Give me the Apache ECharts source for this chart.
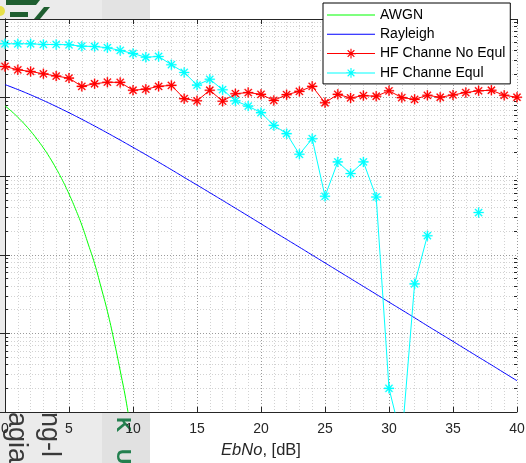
<!DOCTYPE html>
<html>
<head>
<meta charset="utf-8">
<script src="https://cdn.jsdelivr.net/npm/echarts@6/dist/echarts.min.js"></script>
<style>
html, body { margin: 0; padding: 0; background: #fff; }
#chart { width: 526px; height: 463px; }
</style>
</head>
<body>
<div id="chart"></div>
<script>
// EbNo axis (dB) for the measured HF curves and the Rayleigh reference
const ebno = [0, 1, 2, 3, 4, 5, 6, 7, 8, 9, 10, 11, 12, 13, 14, 15, 16, 17, 18, 19, 20,
    21, 22, 23, 24, 25, 26, 27, 28, 29, 30, 31, 32, 33, 34, 35, 36, 37, 38, 39, 40];

const hfNoEqul = [0.249, 0.226, 0.215, 0.201, 0.188, 0.177, 0.139, 0.150, 0.157, 0.156,
    0.124, 0.128, 0.139, 0.143, 0.097, 0.091, 0.124, 0.090, 0.112, 0.116,
    0.110, 0.092, 0.109, 0.120, 0.139, 0.086, 0.110, 0.099, 0.106, 0.104,
    0.122, 0.100, 0.095, 0.107, 0.101, 0.108, 0.116, 0.122, 0.124, 0.107, 0.101];

// null = no errors counted (nothing drawn on the log scale)
const hfEqul = [0.484, 0.484, 0.484, 0.474, 0.474, 0.470, 0.451, 0.447, 0.431, 0.398,
    0.364, 0.326, 0.334, 0.262, 0.209, 0.144, 0.171, 0.126, 0.091, 0.078,
    0.0643, 0.0443, 0.0348, 0.0190, 0.0300, 0.00555, 0.0152, 0.0108, 0.0152, 0.00544,
    0.00002, 0.0000044, 0.000427, 0.00175, null, null, null, 0.00345, null, null, null];

const rayleigh = [0.1464, 0.1267, 0.1085, 0.0919, 0.0771, 0.0642, 0.0530, 0.0435, 0.0355, 0.0288,
    0.0233, 0.0188, 0.0151, 0.0121, 0.00966, 0.00773, 0.00617, 0.00492, 0.00392, 0.00312,
    0.00248, 0.00197, 0.00157, 0.00125, 0.000993, 0.000789, 0.000627, 0.000498, 0.000396, 0.000315,
    0.000250, 0.000199, 0.000158, 0.000125, 0.0000995, 0.0000791, 0.0000628, 0.0000499, 0.0000397,
    0.0000315, 0.0000250];

const awgnX = [0, 0.5, 1, 1.5, 2, 2.5, 3, 3.5, 4, 4.5, 5, 5.5, 6, 6.5, 7, 7.5, 8, 8.5, 9, 9.5, 10];
const awgn = [0.0786, 0.0671, 0.0563, 0.0464, 0.0375, 0.0296, 0.0229, 0.0172, 0.0125, 0.00880,
    0.00595, 0.00385, 0.00239, 0.00137, 0.000773, 0.000389, 0.000191, 0.0000834, 0.0000336,
    0.0000127, 0.00000387];

const legendNames = ['AWGN', 'Rayleigh', 'HF Channe No Equl', 'HF Channe Equl'];

const AXIS = '#262626';
const FONT = '"Liberation Sans", Arial, Helvetica, sans-serif';
// matlab style '*' marker
const STAR = 'path://M-1.1,-10L1.1,-10L1.1,10L-1.1,10Z M-10,-1.1L10,-1.1L10,1.1L-10,1.1Z ' +
    'M-6.22,-7.78L7.78,6.22L6.22,7.78L-7.78,-6.22Z M7.78,-6.22L-6.22,7.78L-7.78,6.22L6.22,-7.78Z';
// legend icons (48x14 box): plain line, and line with '*'
const ICON_LINE = 'path://M0,0L0.01,0Z M0,6.5L48,6.5L48,7.5L0,7.5Z M47.99,14L48,14Z';
const ICON_STAR = 'path://M0,0L0.01,0Z M0,6.5L48,6.5L48,7.5L0,7.5Z M47.99,14L48,14Z ' +
    'M23.45,2.2L24.55,2.2L24.55,11.8L23.45,11.8Z M19.2,6.45L28.8,6.45L28.8,7.55L19.2,7.55Z ' +
    'M21.03,3.25L27.75,9.97L26.97,10.75L20.25,4.03Z M27.75,4.03L21.03,10.75L20.25,9.97L26.97,3.25Z';

let minorVals = [];
for (let d = -5; d < 0; d++) {
    for (let m = 2; m <= 9; m++) minorVals.push(m * Math.pow(10, d));
}

function yLog(extra) {
    return Object.assign({
        type: 'log', logBase: 10, min: 0.00001, max: 1,
        axisLabel: {show: false},
        splitLine: {show: false},
        axisLine: {show: true, lineStyle: {color: AXIS, width: 1}},
        axisTick: {show: true, inside: true, length: 5, lineStyle: {color: AXIS}}
    }, extra);
}

function xLin(extra) {
    return Object.assign({
        type: 'value', min: 0, max: 40, interval: 5,
        axisLine: {show: true, onZero: false, lineStyle: {color: AXIS, width: 1}},
        axisTick: {show: true, inside: true, length: 5, lineStyle: {color: AXIS}},
        axisLabel: {show: false},
        splitLine: {show: false}
    }, extra);
}

function hfSeries(name, vals, color) {
    return {
        name: name, type: 'line', xAxisIndex: 0, yAxisIndex: 0,
        data: ebno.map((x, i) => [x, vals[i]]),
        color: color,
        symbol: STAR, symbolSize: 10, showSymbol: true, showAllSymbol: true,
        connectNulls: false,
        lineStyle: {color: color, width: 1},
        itemStyle: {color: color, borderColor: color, borderWidth: 0.3},
        emphasis: {disabled: true},
        z: 3
    };
}

function vText(txt, x, y, font, fill) {
    return {type: 'text', x: x, y: y, rotation: -Math.PI / 2, z: -8,
        style: {text: txt, font: font, fill: fill, textAlign: 'left', textVerticalAlign: 'middle'}};
}

const chart = echarts.init(document.getElementById('chart'), null, {renderer: 'canvas'});

const option = {
    animation: false,
    backgroundColor: '#ffffff',
    textStyle: {fontFamily: FONT},
    grid: {left: 5, right: 9, top: 19, bottom: 51, containLabel: false, outerBoundsMode: 'none'},
    legend: {
        data: [
            {name: legendNames[0], icon: ICON_LINE},
            {name: legendNames[1], icon: ICON_LINE},
            {name: legendNames[2], icon: ICON_STAR},
            {name: legendNames[3], icon: ICON_STAR}
        ],
        orient: 'vertical',
        left: 323, top: 3,
        padding: [5, 5, 4, 4],
        itemWidth: 48, itemHeight: 14, itemGap: 5.3, itemTextGap: 3,
        itemStyle: {borderWidth: 0},
        backgroundColor: '#ffffff',
        borderColor: '#000000', borderWidth: 1,
        textStyle: {fontFamily: FONT, fontSize: 14, color: '#000000'},
        selectedMode: false,
        z: 10
    },
    xAxis: [
        xLin({
            position: 'bottom',
            axisLabel: {show: true, color: AXIS, fontSize: 14, fontFamily: FONT, margin: 10},
            splitLine: {show: true, lineStyle: {color: '#9a9a9a', type: [1, 2], width: 1}},
            minorTick: {show: false, splitNumber: 5},
            minorSplitLine: {show: true, lineStyle: {color: '#d2d2d2', type: [1, 2], width: 1}},
            name: '{i|EbNo}, [dB]',
            nameLocation: 'middle', nameGap: 30,
            nameTextStyle: {
                fontFamily: FONT, fontSize: 16.5, color: AXIS,
                rich: {i: {fontFamily: FONT, fontSize: 16.5, fontStyle: 'italic', color: AXIS}}
            }
        }),
        xLin({position: 'top'})
    ],
    yAxis: [
        yLog({position: 'left',
            splitLine: {show: true, lineStyle: {color: '#9a9a9a', type: [1, 2], width: 1}}}),
        yLog({position: 'right'}),
        yLog({position: 'left', axisLine: {show: false},
            axisTick: {show: true, inside: true, length: 3, customValues: minorVals, lineStyle: {color: AXIS}},
            splitLine: {show: true, lineStyle: {color: '#d2d2d2', type: [1, 2], width: 1}}}),
        yLog({position: 'right', axisLine: {show: false},
            axisTick: {show: true, inside: true, length: 3, customValues: minorVals, lineStyle: {color: AXIS}}})
    ],
    series: [
        {
            name: 'AWGN', type: 'line', xAxisIndex: 0, yAxisIndex: 0,
            data: awgnX.map((x, i) => [x, awgn[i]]),
            color: '#00ff00', symbol: 'none', smooth: true,
            lineStyle: {color: '#00ff00', width: 1},
            emphasis: {disabled: true}, z: 3
        },
        {
            name: 'Rayleigh', type: 'line', xAxisIndex: 0, yAxisIndex: 0,
            data: ebno.map((x, i) => [x, rayleigh[i]]),
            color: '#0000ff', symbol: 'none', smooth: true,
            lineStyle: {color: '#0000ff', width: 1},
            emphasis: {disabled: true}, z: 3
        },
        hfSeries('HF Channe No Equl', hfNoEqul, '#ff0000'),
        hfSeries('HF Channe Equl', hfEqul, '#00ffff')
    ],
    // page background left over from the scanned document around the figure
    graphic: [
        {type: 'rect', shape: {x: 0, y: 0, width: 102, height: 19}, style: {fill: '#ebebeb'}, z: -10},
        {type: 'rect', shape: {x: 102, y: 0, width: 48, height: 19}, style: {fill: '#e3e3e3'}, z: -10},
        {type: 'rect', shape: {x: 0, y: 413, width: 102, height: 50}, style: {fill: '#ebebeb'}, z: -10},
        {type: 'rect', shape: {x: 102, y: 413, width: 48, height: 50}, style: {fill: '#e1e1e1'}, z: -10},
        {type: 'rect', shape: {x: 0, y: 19, width: 5, height: 394}, style: {fill: '#ebebeb'}, z: -10},
        {type: 'circle', shape: {cx: 0, cy: 11, r: 5}, style: {fill: '#e6e04a'}, z: -9},
        {type: 'polygon', shape: {points: [[6, 0], [40, 0], [36, 5], [6, 5]]}, style: {fill: '#1f5e30'}, z: -9},
        {type: 'polygon', shape: {points: [[34, 19], [44, 7], [50, 7], [40, 19]]}, style: {fill: '#1f5e30'}, z: -9},
        {type: 'rect', shape: {x: 10, y: 12, width: 18, height: 5}, style: {fill: '#1f5e30'}, z: -9},
        vText('agia', 16, 412, '27px ' + FONT, '#3a3a3a'),
        vText('ng-l', 49, 412, '27px ' + FONT, '#3a3a3a'),
        vText('K', 123, 417, 'bold 21px ' + FONT, '#23804f'),
        vText('U', 123, 449, 'bold 21px ' + FONT, '#23804f')
    ]
};

chart.setOption(option);
</script>
</body>
</html>
